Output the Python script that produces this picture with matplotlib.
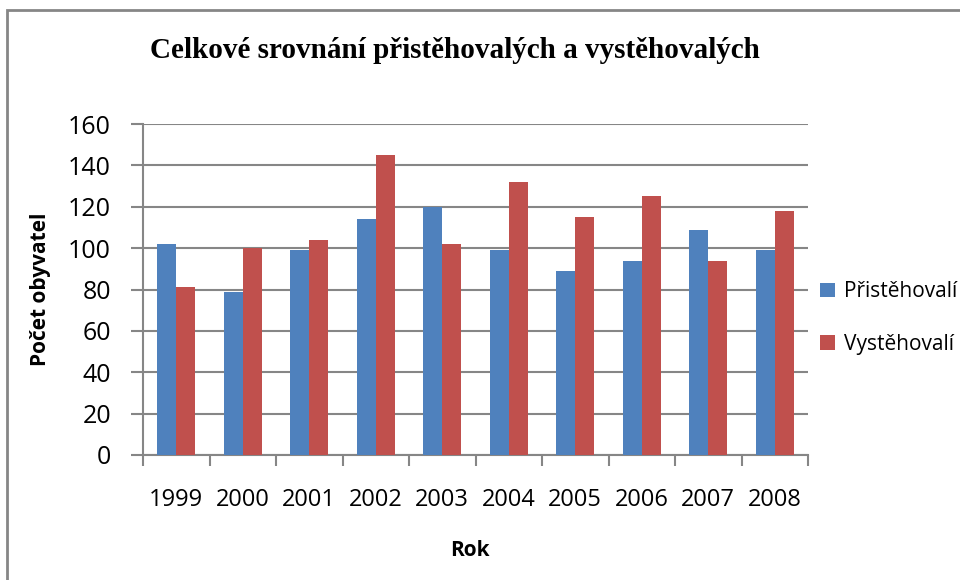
import matplotlib.pyplot as plt
import numpy as np
from matplotlib.patches import Rectangle

# data
years = ['1999', '2000', '2001', '2002', '2003', '2004', '2005', '2006', '2007', '2008']
prist = [102, 79, 99, 114, 120, 99, 89, 94, 109, 99]
vyst = [81, 100, 104, 145, 102, 132, 115, 125, 94, 118]
series_names = ['Přistěhovalí', 'Vystěhovalí']
colors = ['#4F81BD', '#C0504D']

W, H = 960, 580
fig = plt.figure(figsize=(W / 100, H / 100), dpi=100)
ax = fig.add_axes([143 / W, 1 - 455 / H, (808 - 143) / W, (455 - 124) / H])

x = np.arange(len(years))
bw = 0.285
ax.bar(x - bw / 2, prist, bw, color=colors[0], label=series_names[0], zorder=3)
ax.bar(x + bw / 2, vyst, bw, color=colors[1], label=series_names[1], zorder=3)

ax.set_xlim(-0.5, len(years) - 0.5)
ax.set_ylim(0, 160)
ax.set_yticks(range(0, 161, 20))
ax.yaxis.grid(True, color='#868686', linewidth=1.5, zorder=0)

grey = '#868686'
for s in ['top', 'right']:
    ax.spines[s].set_visible(False)
for s in ['left', 'bottom']:
    ax.spines[s].set_color(grey)
    ax.spines[s].set_linewidth(1.5)

# category ticks sit on the boundaries between years
ax.set_xticks(np.arange(-0.5, len(years)), minor=False)
ax.set_xticklabels([])
ax.set_xticks(x, minor=True)
ax.set_xticklabels(years, minor=True, fontsize=17, family='Open Sans')
ax.tick_params(axis='x', which='major', length=8, width=1.5, color=grey)
ax.tick_params(axis='x', which='minor', length=0, pad=24)
ax.tick_params(axis='y', length=9, width=1.5, color=grey, labelsize=18, pad=14)
for t in ax.get_yticklabels():
    t.set_family('Open Sans')

ax.set_ylabel('Počet obyvatel', fontsize=15, fontweight='bold', family='Open Sans', labelpad=12)
fig.text(470 / W, 1 - 550 / H, 'Rok', fontsize=15, fontweight='bold', family='Open Sans',
         ha='center', va='center')

fig.text(455 / W, 1 - 50 / H, 'Celkové srovnání přistěhovalých a vystěhovalých',
         fontsize=21, fontweight='bold', family='Liberation Serif', ha='center', va='center')

ax.legend(loc='center left', bbox_to_anchor=(812 / W, 1 - 318 / H), bbox_transform=fig.transFigure,
          frameon=False, prop={'family': 'Open Sans', 'size': 15}, handlelength=0.7,
          handleheight=0.7, handletextpad=0.45, labelspacing=1.5, borderaxespad=0)

# chart area frame
fig.patches.append(Rectangle((7 / W, -0.1), 1.2, 1 - 10 / H + 0.1, transform=fig.transFigure,
                             fill=False, edgecolor=grey, linewidth=2))

fig.savefig('out.png', dpi=100)
